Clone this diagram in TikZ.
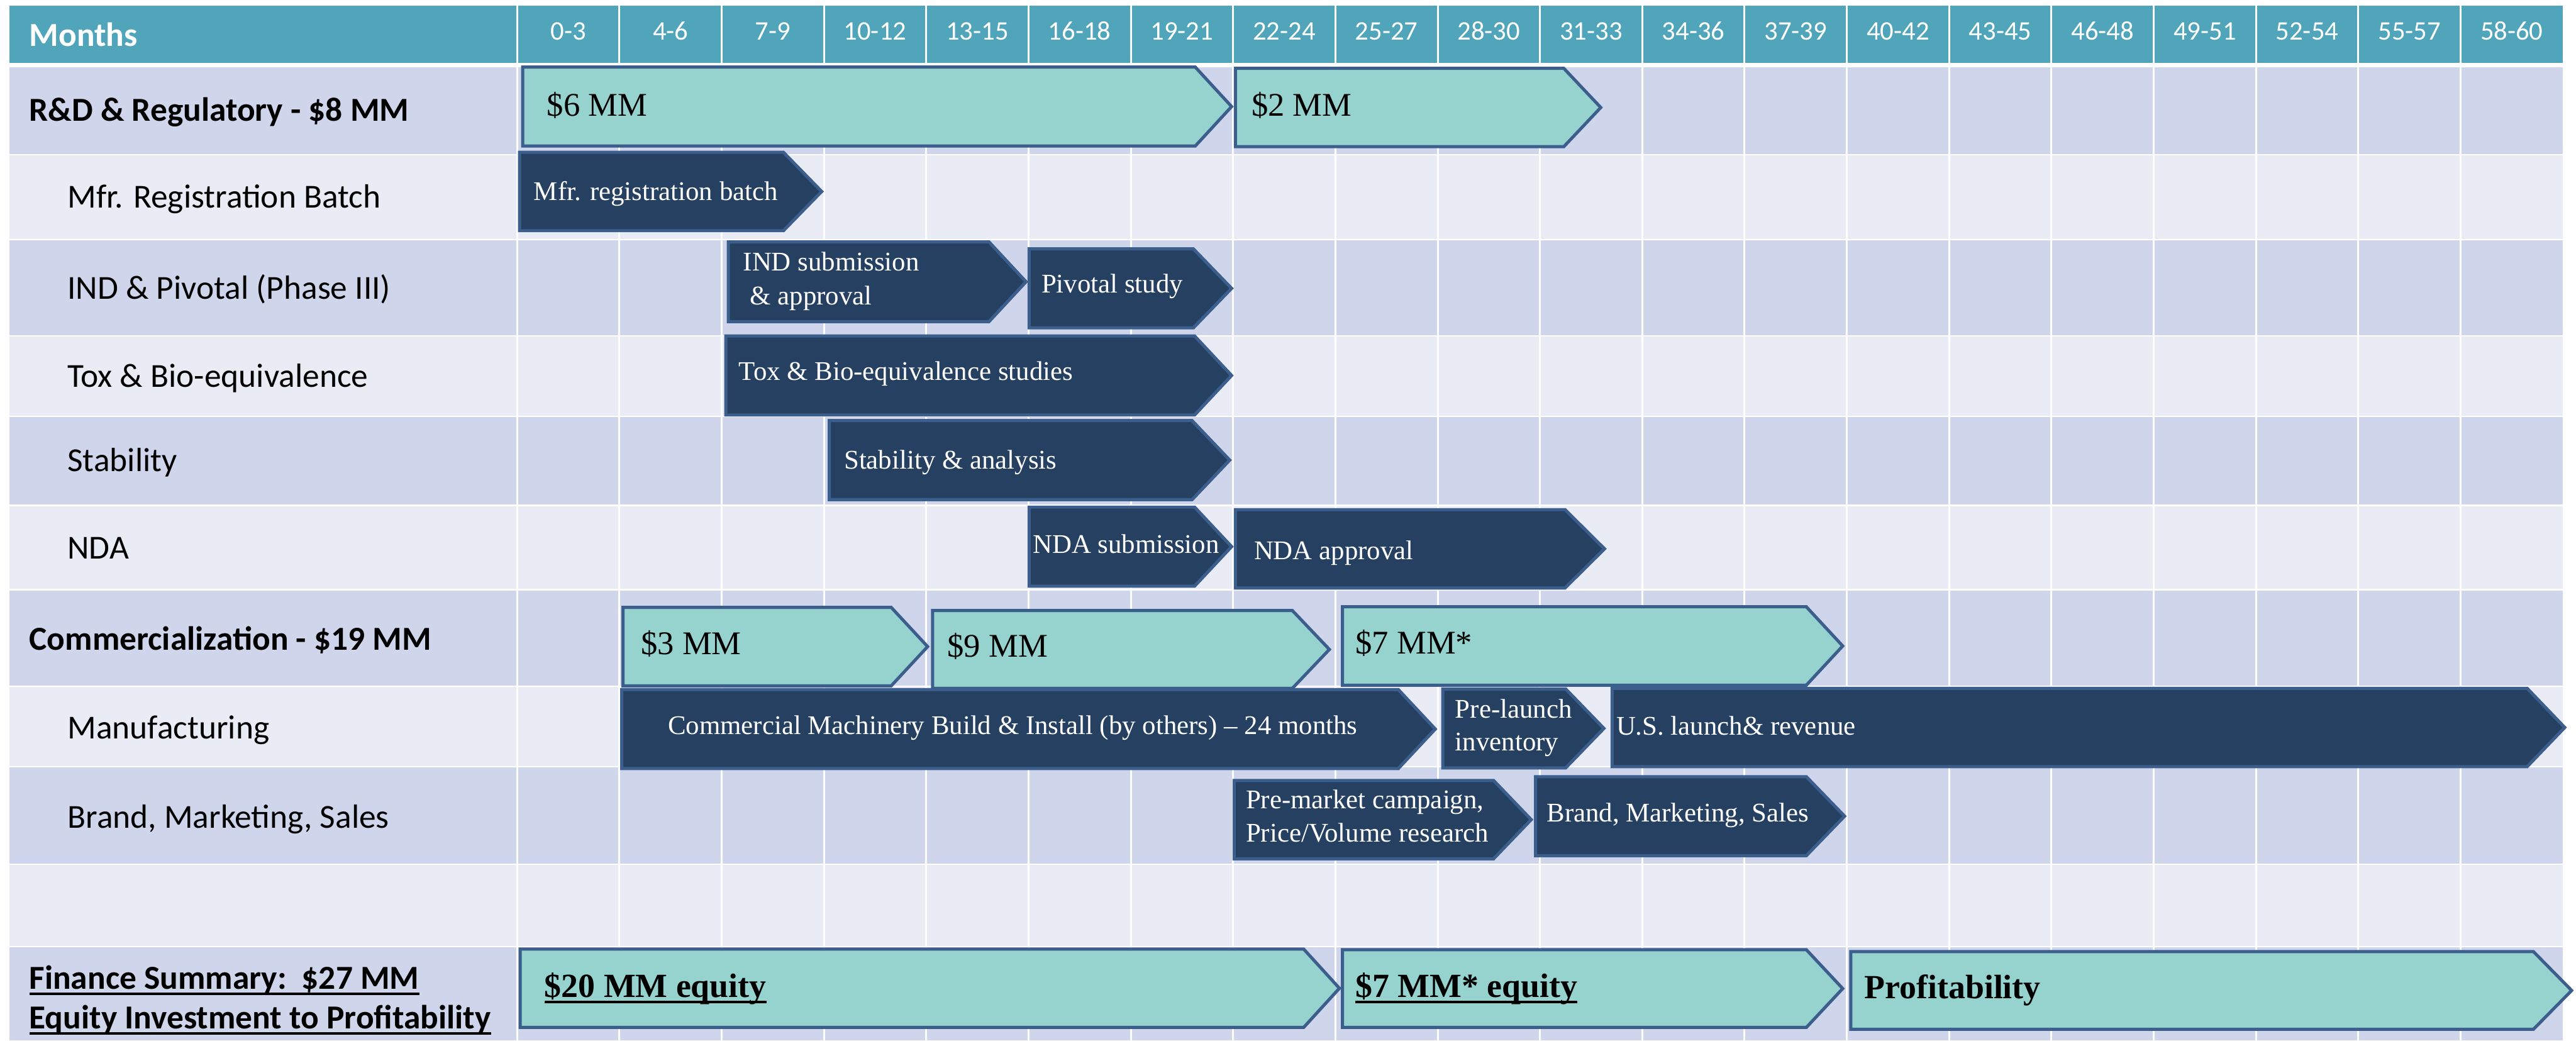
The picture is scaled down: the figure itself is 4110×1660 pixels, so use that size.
\documentclass[tikz,border=0pt]{standalone}
\usepackage{fontspec}
\setmainfont{Liberation Serif}
\newfontfamily\lblfont{Carlito}
\usepackage{xcolor}
\usepackage{tikz}
\newcommand{\thickul}[1]{\setbox0=\hbox{#1}\rlap{\rule[-2.3pt]{\wd0}{0.9pt}}\box0}
\definecolor{hdrTeal}{HTML}{50A5BA}
\definecolor{rowDark}{HTML}{CFD5EA}
\definecolor{rowLight}{HTML}{E9EBF5}
\definecolor{barTeal}{HTML}{96D3CE}
\definecolor{barNavy}{HTML}{264061}
\definecolor{barEdge}{HTML}{3B5E8D}

\tikzset{
  tealbar/.style={draw=barEdge, fill=barTeal, line width=1.25pt},
  navybar/.style={draw=barEdge, fill=barNavy, line width=1.25pt},
  gridline/.style={draw=white, line width=0.75pt},
  monthlbl/.style={anchor=base, inner sep=0pt, text=white, font=\lblfont\fontsize{10.7}{13}\selectfont},
  rowlbl/.style={anchor=base west, inner sep=0pt, font=\lblfont\fontsize{13.4}{16}\selectfont},
  rowhead/.style={rowlbl, font=\lblfont\bfseries\fontsize{13.4}{16}\selectfont},
  tealtxt/.style={anchor=base west, inner sep=0pt, font=\fontsize{13.2}{16}\selectfont},
  navytxt/.style={anchor=base west, inner sep=0pt, text=white, font=\fontsize{10.75}{13}\selectfont}
}

\begin{document}
\begin{tikzpicture}[x=0.25pt,y=0.25pt,yscale=-1,xscale=1]
\useasboundingbox (0,0) rectangle (4110,1660);
\fill [white] (0,0) rectangle (4110,1660);

%Shape: Header band
\fill [hdrTeal] (15,9) rectangle (4089,100);
%Shape: Row bands
\fill [rowDark] (15,107) rectangle (4089,246);
\fill [rowLight] (15,248) rectangle (4089,381);
\fill [rowDark] (15,383) rectangle (4089,535);
\fill [rowLight] (15,537) rectangle (4089,663);
\fill [rowDark] (15,665) rectangle (4089,805);
\fill [rowLight] (15,808) rectangle (4089,939);
\fill [rowDark] (15,942) rectangle (4089,1094);
\fill [rowLight] (15,1096) rectangle (4089,1222);
\fill [rowDark] (15,1224) rectangle (4089,1378);
\fill [rowLight] (15,1380) rectangle (4089,1509);
\fill [rowDark] (15,1511) rectangle (4089,1660);
%Shape: Column rules
\draw [gridline] (825,9) -- (825,1660) (988.2,9) -- (988.2,1660) (1151.4,9) -- (1151.4,1660) (1314.6,9) -- (1314.6,1660) (1477.8,9) -- (1477.8,1660) (1641,9) -- (1641,1660) (1804.2,9) -- (1804.2,1660) (1967.4,9) -- (1967.4,1660) (2130.6,9) -- (2130.6,1660) (2293.8,9) -- (2293.8,1660) (2457,9) -- (2457,1660) (2620.2,9) -- (2620.2,1660) (2783.4,9) -- (2783.4,1660) (2946.6,9) -- (2946.6,1660) (3109.8,9) -- (3109.8,1660) (3273,9) -- (3273,1660) (3436.2,9) -- (3436.2,1660) (3599.4,9) -- (3599.4,1660) (3762.6,9) -- (3762.6,1660) (3925.8,9) -- (3925.8,1660) ;

% Text Node
\draw (46,74) node [rowhead,text=white] (months) {Months};
% Text Node
\draw (906.6,64) node [monthlbl] (m1) {0-3};
\draw (1069.8,64) node [monthlbl] (m2) {4-6};
\draw (1233,64) node [monthlbl] (m3) {7-9};
\draw (1396.2,64) node [monthlbl] (m4) {10-12};
\draw (1559.4,64) node [monthlbl] (m5) {13-15};
\draw (1722.6,64) node [monthlbl] (m6) {16-18};
\draw (1885.8,64) node [monthlbl] (m7) {19-21};
\draw (2049,64) node [monthlbl] (m8) {22-24};
\draw (2212.2,64) node [monthlbl] (m9) {25-27};
\draw (2375.4,64) node [monthlbl] (m10) {28-30};
\draw (2538.6,64) node [monthlbl] (m11) {31-33};
\draw (2701.8,64) node [monthlbl] (m12) {34-36};
\draw (2865,64) node [monthlbl] (m13) {37-39};
\draw (3028.2,64) node [monthlbl] (m14) {40-42};
\draw (3191.4,64) node [monthlbl] (m15) {43-45};
\draw (3354.6,64) node [monthlbl] (m16) {46-48};
\draw (3517.8,64) node [monthlbl] (m17) {49-51};
\draw (3681,64) node [monthlbl] (m18) {52-54};
\draw (3844.2,64) node [monthlbl] (m19) {55-57};
\draw (4007.4,64) node [monthlbl] (m20) {58-60};

% Text Node
\draw (46,193) node [rowhead] (rdlbl) {R\&D \& Regulatory - \$8 MM};
\draw (107,332) node [rowlbl] (mfrlbl) {Mfr. Registration Batch};
\draw (107,477) node [rowlbl] (indlbl) {IND \& Pivotal (Phase III)};
\draw (107,618) node [rowlbl] (toxlbl) {Tox \& Bio-equivalence};
\draw (107,752) node [rowlbl] (stablbl) {Stability};
\draw (107,892) node [rowlbl] (ndalbl) {NDA};
\draw (46,1037) node [rowhead] (commlbl) {Commercialization - \$19 MM};
\draw (107,1178) node [rowlbl] (manlbl) {Manufacturing};
\draw (107,1321) node [rowlbl] (brandlbl) {Brand, Marketing, Sales};
\draw (46,1578) node [rowhead] (finlblA) {\thickul{Finance Summary:\ \ \$27 MM}};
\draw (46,1641) node [rowhead] (finlblB) {\thickul{Equity Investment to Profitability}};

%Shape: Teal chevrons
\draw [tealbar] (834,107) -- (1907,107) -- (1965,170) -- (1907,233) -- (834,233) -- cycle ;
\draw [tealbar] (1971,109) -- (2495,109) -- (2554,171.5) -- (2495,234) -- (1971,234) -- cycle ;
\draw [tealbar] (994,969) -- (1422,969) -- (1480,1031.5) -- (1422,1094) -- (994,1094) -- cycle ;
\draw [tealbar] (1488,974) -- (2062,974) -- (2121,1036) -- (2062,1098) -- (1488,1098) -- cycle ;
\draw [tealbar] (2142,968) -- (2882,968) -- (2940,1030.5) -- (2882,1093) -- (2142,1093) -- cycle ;
\draw [tealbar] (830,1514) -- (2080,1514) -- (2137,1576.5) -- (2080,1639) -- (830,1639) -- cycle ;
\draw [tealbar] (2142,1515) -- (2882,1515) -- (2940,1577) -- (2882,1639) -- (2142,1639) -- cycle ;
\draw [tealbar] (2953,1518) -- (4042,1518) -- (4103,1580) -- (4042,1642) -- (2953,1642) -- cycle ;

%Shape: Navy chevrons
\draw [navybar] (829,243) -- (1250,243) -- (1311,305.5) -- (1250,368) -- (829,368) -- cycle ;
\draw [navybar] (1162,386) -- (1578,386) -- (1637,449.5) -- (1578,513) -- (1162,513) -- cycle ;
\draw [navybar] (1642,397) -- (1904,397) -- (1965,460) -- (1904,523) -- (1642,523) -- cycle ;
\draw [navybar] (1158,536) -- (1906,536) -- (1965,599) -- (1906,662) -- (1158,662) -- cycle ;
\draw [navybar] (1323,671) -- (1902,671) -- (1962,734) -- (1902,797) -- (1323,797) -- cycle ;
\draw [navybar] (1642,809) -- (1906,809) -- (1965,872) -- (1906,935) -- (1642,935) -- cycle ;
\draw [navybar] (1971,813) -- (2497,813) -- (2560,875.5) -- (2497,938) -- (1971,938) -- cycle ;
\draw [navybar] (992,1100) -- (2231,1100) -- (2290,1163) -- (2231,1226) -- (992,1226) -- cycle ;
\draw [navybar] (2302,1099) -- (2498,1099) -- (2559,1162) -- (2498,1225) -- (2302,1225) -- cycle ;
\draw [navybar] (2572,1098) -- (4032,1098) -- (4092,1160.5) -- (4032,1223) -- (2572,1223) -- cycle ;
\draw [navybar] (1969,1245) -- (2383,1245) -- (2443,1307.5) -- (2383,1370) -- (1969,1370) -- cycle ;
\draw [navybar] (2450,1239) -- (2882,1239) -- (2943,1302) -- (2882,1365) -- (2450,1365) -- cycle ;

% Text Node
\draw (872,185) node [tealtxt] (rd6) {\$6 MM};
\draw (1996,185) node [tealtxt] (rd2) {\$2 MM};
\draw (1022,1044) node [tealtxt] (cm3) {\$3 MM};
\draw (1511,1048) node [tealtxt] (cm9) {\$9 MM};
\draw (2162,1043) node [tealtxt] (cm7) {\$7 MM*};
\draw (868,1591) node [tealtxt,font=\bfseries\fontsize{13.5}{16}\selectfont] (eq20) {\thickul{\$20 MM equity}};
\draw (2162,1591) node [tealtxt,font=\bfseries\fontsize{13.5}{16}\selectfont] (eq7) {\thickul{\$7 MM* equity}};
\draw (2974,1593) node [tealtxt,font=\bfseries\fontsize{13.5}{16}\selectfont] (profit) {Profitability};

% Text Node
\draw (851,320) node [navytxt] (mfrbatch) {Mfr. registration batch};
\draw (1185,432) node [navytxt] (indsubA) {IND submission};
\draw (1196,486) node [navytxt] (indsubB) {\& approval};
\draw (1661,467) node [navytxt] (pivotal) {Pivotal study};
\draw (1178,607) node [navytxt] (toxstudy) {Tox \& Bio-equivalence studies};
\draw (1346,748) node [navytxt] (stabanal) {Stability \& analysis};
\draw (1647,882) node [navytxt] (ndasub) {NDA submission};
\draw (2000,893) node [navytxt] (ndaappr) {NDA approval};
\draw (1065,1171) node [navytxt] (machbuild) {Commercial Machinery Build \& Install (by others) -- 24 months};
\draw (2321,1145) node [navytxt] (prelaunchA) {Pre-launch};
\draw (2321,1198) node [navytxt] (prelaunchB) {inventory};
\draw (2578,1172) node [navytxt] (uslaunch) {U.S. launch\& revenue};
\draw (1987,1290) node [navytxt] (premktA) {Pre-market campaign,};
\draw (1987,1343) node [navytxt] (premktB) {Price/Volume research};
\draw (2467,1311) node [navytxt] (brandmkt) {Brand, Marketing, Sales};

\end{tikzpicture}
\end{document}
